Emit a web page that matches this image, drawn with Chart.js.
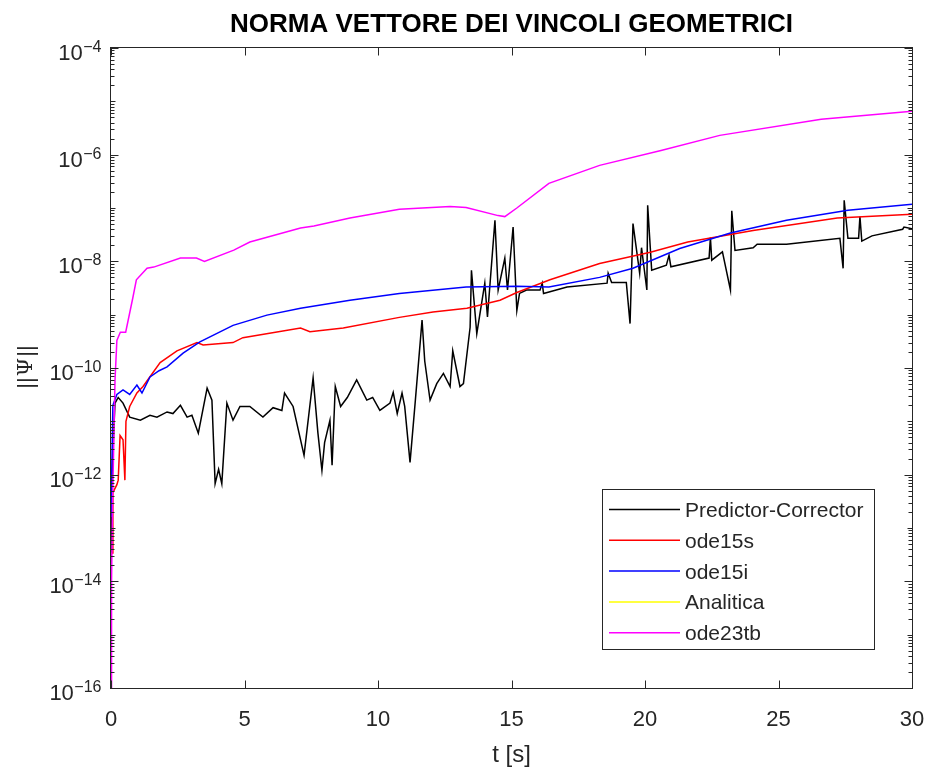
<!DOCTYPE html>
<html>
<head>
<meta charset="utf-8">
<script src="https://cdn.jsdelivr.net/npm/chart.js@4.4.1/dist/chart.umd.min.js"></script>
<style>
  html, body { margin: 0; padding: 0; background: #fff; }
  #wrap { width: 930px; height: 769px; }
</style>
</head>
<body>
<div id="wrap"><canvas id="normChart" width="930" height="769"></canvas></div>
<script>
const FONT = '"Liberation Sans", Arial, Helvetica, sans-serif';
const AXIS_COLOR = "#262626";

const titleText = "NORMA VETTORE DEI VINCOLI GEOMETRICI";
const xLabel = "t [s]";

const seriesNames = ["Predictor-Corrector", "ode15s", "ode15i", "Analitica", "ode23tb"];
const seriesColors = ["#000000", "#ff0000", "#0000ff", "#ffff00", "#ff00ff"];

const xTicks = [0, 5, 10, 15, 20, 25, 30];
const yTickExps = [-16, -14, -12, -10, -8, -6, -4];

// Predictor-Corrector
const pcTime = [0, 0.04, 0.1, 0.15, 0.27, 0.45, 0.7, 1.1, 1.46, 1.72, 2.1, 2.32, 2.6, 2.85, 3.03, 3.27,
  3.6, 3.78, 3.9, 4.03, 4.15, 4.34, 4.57, 4.83, 5.2, 5.69, 6.07, 6.4, 6.5, 6.82, 7.23, 7.57, 7.75,
  7.9, 8.0, 8.2, 8.28, 8.4, 8.6, 8.85, 9.2, 9.58, 9.8, 10.07, 10.45, 10.57, 10.72, 10.9, 11.0, 11.2,
  11.4, 11.65, 11.75, 11.95, 12.2, 12.45, 12.7, 12.8, 13.07, 13.2, 13.45, 13.5, 13.7, 14.0, 14.1,
  14.38, 14.5, 14.75, 14.85, 15.06, 15.2, 15.3, 15.56, 16.07, 16.15, 16.2, 17.08, 18.58, 18.62,
  18.75, 19.3, 19.44, 19.55, 19.8, 19.87, 20.07, 20.1, 20.25, 20.8, 20.9, 20.97, 22.4, 22.45, 22.5,
  22.9, 23.2, 23.25, 23.37, 24.05, 24.2, 25.3, 27.3, 27.42, 27.46, 27.6, 28.0, 28.05, 28.12, 28.5,
  29.65, 29.7, 30];
const pcNorm = [1e-14, 1e-12, 6.0e-12, 2.2e-11, 2.8e-11, 2.2e-11, 1.2e-11, 1.05e-11, 1.3e-11, 1.2e-11,
  1.5e-11, 1.4e-11, 2.0e-11, 1.2e-11, 1.3e-11, 6.0e-12,
  4.2e-11, 2.5e-11, 6.8e-13, 1.26e-12, 6.8e-13, 2.2e-11, 1.05e-11, 1.9e-11, 1.9e-11, 1.2e-11, 1.8e-11,
  1.6e-11, 3.4e-11, 1.9e-11, 2.3e-12, 6.5e-11, 6.0e-12,
  1.2e-12, 4.0e-12, 1.05e-11, 1.5e-12, 4.5e-11, 1.9e-11, 2.8e-11, 6.0e-11, 2.5e-11, 2.8e-11, 1.6e-11,
  2.2e-11, 3.5e-11, 1.4e-11, 3.4e-11, 1.9e-11, 1.7e-12,
  2.5e-11, 7.9e-10, 1.35e-10, 2.5e-11, 5.1e-11, 7.9e-11, 4.5e-11, 2.1e-10, 4.5e-11, 5.1e-11, 5.8e-10,
  6.8e-9, 4.4e-10, 3.9e-9, 9.1e-10,
  5.9e-8, 2.9e-9, 1.15e-8, 2.9e-9, 4.4e-8, 1.2e-9, 2.5e-9, 2.9e-9, 2.9e-9, 3.9e-9, 2.5e-9, 3.3e-9,
  3.9e-9, 6.0e-9,
  4.0e-9, 4.0e-9, 6.8e-10, 5.1e-8, 6.0e-9, 1.8e-8, 2.9e-9, 1.12e-7, 6.8e-9, 8.5e-9, 1.3e-8, 7.9e-9,
  1.15e-8, 2.8e-8, 1.05e-8,
  1.5e-8, 2.9e-9, 8.9e-8, 1.6e-8, 1.8e-8, 2.1e-8, 2.1e-8, 2.7e-8, 7.4e-9, 1.4e-7, 2.7e-8, 2.7e-8,
  6.9e-8, 2.4e-8, 3.0e-8,
  4.0e-8, 4.4e-8, 4.1e-8];

// ode15s
const o15sTime = [0, 0.04, 0.07, 0.22, 0.27, 0.34, 0.45, 0.52, 0.56, 0.7, 0.97, 1.2, 1.84, 2.47, 3.22,
  3.45, 4.57, 4.94, 7.1, 7.45, 8.7, 10.8, 12.06, 13.33, 14.57, 15.2, 16.44, 18.3, 20.2, 21.6, 24.05,
  27.2, 30];
const o15sNorm = [3.2e-14, 3.4e-14, 4.6e-13, 6.5e-13, 7.9e-13, 5.4e-12, 4.5e-12, 7.9e-13, 1e-11,
  1.9e-11, 3.4e-11, 4.5e-11, 1.26e-10, 2.1e-10, 3.0e-10,
  2.7e-10, 3.0e-10, 3.7e-10, 5.6e-10, 4.8e-10, 5.6e-10, 8.9e-10, 1.12e-9, 1.32e-9, 1.86e-9, 2.6e-9,
  4.5e-9, 9.1e-9, 1.48e-8, 2.3e-8, 3.8e-8,
  6.5e-8, 7.6e-8];

// ode15i
const o15iTime = [0, 0.07, 0.22, 0.45, 0.7, 0.97, 1.16, 1.46, 1.8, 2.1, 2.7, 3.33, 4.57, 5.84, 7.1,
  8.95, 10.8, 13.3, 15.2, 16.4, 18.3, 19.55, 21.3, 23.2, 25.3, 27.6, 30];
const o15iNorm = [1.6e-13, 2e-11, 3.2e-11, 3.9e-11, 3.2e-11, 4.8e-11, 3.4e-11, 6.8e-11, 8.9e-11,
  1.05e-10, 1.9e-10, 3.1e-10, 6.3e-10, 9.8e-10, 1.32e-9,
  1.86e-9, 2.5e-9, 3.3e-9, 3.4e-9, 3.3e-9, 5e-9, 7.4e-9, 1.74e-8, 3.4e-8, 5.9e-8, 9.1e-8, 1.17e-7];

// Analitica: no visible trace on the log axis
const anaTime = [];
const anaNorm = [];

// ode23tb
const o23Time = [0, 0.02, 0.06, 0.15, 0.22, 0.35, 0.55, 0.82, 0.95, 1.35, 1.6, 2.6, 3.2, 3.5, 4.6,
  5.2, 7.1, 7.6, 8.95, 10.8, 12.7, 13.3, 14.5, 14.75, 15.2, 16.4, 18.3, 20.6, 22.8, 26.6, 30];
const o23Norm = [1e-16, 1e-14, 3.2e-13, 5.9e-11, 3.3e-10, 4.7e-10, 4.7e-10, 2.1e-9, 4.5e-9, 7.4e-9,
  7.8e-9, 1.15e-8, 1.15e-8, 1.0e-8, 1.62e-8,
  2.3e-8, 4.2e-8, 4.6e-8, 6.5e-8, 9.5e-8, 1.07e-7, 1.02e-7, 7.2e-8, 6.9e-8, 1.0e-7, 2.9e-7, 6.3e-7,
  1.2e-6, 2.3e-6, 4.6e-6, 6.5e-6];

const toPoints = (t, v) => t.map((x, i) => ({ x: x, y: v[i] }));
const allTimes = [pcTime, o15sTime, o15iTime, anaTime, o23Time];
const allNorms = [pcNorm, o15sNorm, o15iNorm, anaNorm, o23Norm];

// matlab-like box, ticks, labels, title and legend
const matlabAxes = {
  id: "matlabAxes",
  afterDatasetsDraw(chart) {
    const { ctx, chartArea: a, scales } = chart;
    const xs = scales.x, ys = scales.y;
    const L = Math.round(a.left) - 0.5, R = Math.round(a.right) + 0.5;
    const T = Math.round(a.top) - 0.5, B = Math.round(a.bottom) + 0.5;

    ctx.save();
    ctx.strokeStyle = AXIS_COLOR;
    ctx.lineWidth = 1;
    ctx.strokeRect(L, T, R - L, B - T);

    ctx.beginPath();
    xTicks.forEach((v) => {
      const px = Math.round(xs.getPixelForValue(v)) + 0.5;
      ctx.moveTo(px, B); ctx.lineTo(px, B - 8);
      ctx.moveTo(px, T); ctx.lineTo(px, T + 8);
    });
    for (let k = -16; k <= -4; k++) {
      const py = Math.round(ys.getPixelForValue(Math.pow(10, k))) + 0.5;
      const len = yTickExps.includes(k) ? 8 : 5;
      ctx.moveTo(L, py); ctx.lineTo(L + len, py);
      ctx.moveTo(R, py); ctx.lineTo(R - len, py);
      if (k === -4) continue;
      for (let m = 2; m <= 9; m++) {
        const pm = Math.round(ys.getPixelForValue(m * Math.pow(10, k))) + 0.5;
        ctx.moveTo(L, pm); ctx.lineTo(L + 4, pm);
        ctx.moveTo(R, pm); ctx.lineTo(R - 4, pm);
      }
    }
    ctx.stroke();

    // tick labels
    ctx.fillStyle = AXIS_COLOR;
    ctx.textBaseline = "alphabetic";
    ctx.textAlign = "center";
    ctx.font = "22px " + FONT;
    xTicks.forEach((v) => {
      ctx.fillText(String(v), xs.getPixelForValue(v), 726);
    });

    ctx.textAlign = "left";
    yTickExps.forEach((e) => {
      const py = ys.getPixelForValue(Math.pow(10, e));
      const sup = "\u2212" + Math.abs(e);
      ctx.font = "16px " + FONT;
      const w2 = ctx.measureText(sup).width;
      ctx.font = "22px " + FONT;
      const w1 = ctx.measureText("10").width;
      const x0 = 101 - w1 - w2;
      ctx.fillText("10", x0, py + 12);
      ctx.font = "16px " + FONT;
      ctx.fillText(sup, x0 + w1 + 0.5, py + 4);
    });

    // axis labels
    ctx.textAlign = "center";
    ctx.font = "24px " + FONT;
    ctx.fillText(xLabel, (a.left + a.right) / 2, 762);

    ctx.save();
    ctx.translate(33, 367);
    ctx.rotate(-Math.PI / 2);
    ctx.textAlign = "left";
    ctx.font = "22px " + FONT;
    const bars = "||";
    const wb = ctx.measureText(bars).width;
    ctx.font = "21px 'DejaVu Serif', 'Liberation Serif', serif";
    const wp = ctx.measureText("\u03A8").width;
    const total = wb * 2 + wp + 2;
    let cx = -total / 2;
    ctx.font = "22px " + FONT;
    ctx.fillText(bars, cx, 0);
    cx += wb + 1;
    ctx.font = "21px 'DejaVu Serif', 'Liberation Serif', serif";
    ctx.fillText("\u03A8", cx, -1);
    cx += wp + 1;
    ctx.font = "22px " + FONT;
    ctx.fillText(bars, cx, 0);
    ctx.restore();

    // title
    ctx.fillStyle = "#000";
    ctx.font = "bold 26px " + FONT;
    ctx.fillText(titleText, (a.left + a.right) / 2, 32);

    // legend
    const lx = 602.5, ly = 489.5, lw = 272, lh = 160;
    ctx.fillStyle = "#fff";
    ctx.fillRect(lx, ly, lw, lh);
    ctx.strokeStyle = AXIS_COLOR;
    ctx.lineWidth = 1;
    ctx.strokeRect(lx, ly, lw, lh);
    ctx.font = "21px " + FONT;
    ctx.textAlign = "left";
    chart.data.datasets.forEach((ds, i) => {
      const rowY = 509.5 + i * 30.8;
      ctx.strokeStyle = ds.borderColor;
      ctx.lineWidth = 1.5;
      ctx.beginPath();
      ctx.moveTo(609, rowY); ctx.lineTo(680, rowY);
      ctx.stroke();
      ctx.fillStyle = AXIS_COLOR;
      ctx.fillText(ds.label, 685, rowY + 7.5);
    });
    ctx.restore();
  }
};

const ctx = document.getElementById("normChart").getContext("2d");

const normChart = new Chart(ctx, {
  type: "line",
  data: {
    datasets: seriesNames.map((name, i) => ({
      label: name,
      data: toPoints(allTimes[i], allNorms[i]),
      borderColor: seriesColors[i],
      backgroundColor: seriesColors[i],
      borderWidth: 1.5,
      pointRadius: 0,
      tension: 0,
      fill: false,
      order: seriesNames.length - i,
    })),
  },
  options: {
    responsive: false,
    animation: false,
    events: [],
    layout: { padding: { top: 48, right: 18, left: 0, bottom: 0 } },
    plugins: {
      legend: { display: false },
      title: { display: false },
      tooltip: { enabled: false },
    },
    scales: {
      x: {
        type: "linear",
        min: 0,
        max: 30,
        ticks: { display: false },
        grid: { display: false },
        border: { display: false },
        afterFit: (s) => { s.height = 81; },
      },
      y: {
        type: "logarithmic",
        min: 1e-16,
        max: 1e-4,
        ticks: { display: false },
        grid: { display: false },
        border: { display: false },
        afterFit: (s) => { s.width = 111; },
      },
    },
  },
  plugins: [matlabAxes],
});
</script>
</body>
</html>
